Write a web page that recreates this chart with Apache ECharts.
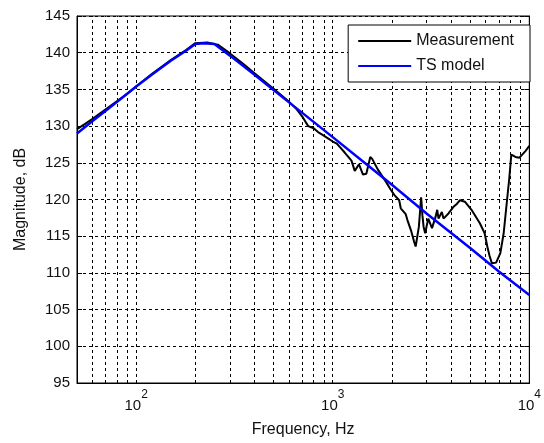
<!DOCTYPE html>
<html>
<head>
<meta charset="utf-8">
<script src="https://cdn.jsdelivr.net/npm/echarts@6/dist/echarts.min.js"></script>
<style>
html,body{margin:0;padding:0;background:#fff;}
#c{width:544px;height:443px;}
</style>
</head>
<body>
<div id="c"></div>
<script>
// ---- data ----
var measFreq = [50,55,60,70,80,90,100,120,150,180,200,230,260,300,350,400,500,600,650,700,750,800,850,900,950,1000,1050,1100,1150,1245,1294,1360,1425,1482,1552,1590,1694,1866,1977,2060,2178,2218,2351,2398,2500,2590,2641,2743,2816,2860,2898,2952,3060,3199,3332,3400,3452,3589,3661,3731,3879,4113,4277,4438,4700,5079,5593,5926,6113,6279,6449,6780,7121,7405,7701,7915,8096,8500,8912,9552,10000];
var measDb = [129.6,130.3,131.0,132.3,133.4,134.4,135.4,137.1,139.0,140.4,141.3,141.4,141.1,139.9,138.5,137.2,135.1,133.3,132.4,131.3,130.0,129.7,129.1,128.7,128.3,127.9,127.6,127.0,126.4,125.3,123.9,124.8,123.4,123.5,125.8,125.5,124.1,122.4,121.3,120.6,119.9,118.8,118.0,117.2,115.8,114.3,113.6,116.3,120.3,117.8,116.3,115.4,117.4,116.1,117.6,118.6,117.4,118.3,117.4,117.6,118.1,119.0,119.4,119.9,119.7,118.6,116.8,115.4,113.6,112.3,111.3,111.4,112.7,115.4,119.9,123.0,126.1,125.8,125.7,126.6,127.3];

var modelFreq = [50,60,70,80,90,100,120,150,180,200,220,250,300,400,500,700,1000,1500,2000,3000,5000,7000,10000];
var modelDb = [129.0,130.7,132.1,133.3,134.4,135.4,137.0,138.9,140.3,141.2,141.3,141.2,139.6,137.0,134.9,131.8,128.5,124.7,122.0,118.1,113.4,110.2,107.0];

var gridFreqs = [60,70,80,90,100,200,300,400,500,600,700,800,900,1000,2000,3000,4000,5000,6000,7000,8000,9000];
var xMin = 50, xMax = 10000;
var yMin = 95, yMax = 145, yStep = 5;
var seriesNames = ['Measurement', 'TS model'];

function pairs(fs, vs) { return fs.map(function (f, i) { return [f, vs[i]]; }); }

var FONT = '"Liberation Sans", Arial, sans-serif';
var chart = echarts.init(document.getElementById('c'), null, {renderer: 'canvas'});
var dash = [3, 3];

chart.setOption({
  animation: false,
  backgroundColor: '#fff',
  textStyle: {fontFamily: FONT},
  grid: {left: 77, top: 16, right: 9, bottom: 54, show: true, borderColor: '#000', borderWidth: 1, backgroundColor: '#fff'},
  legend: {
    orient: 'vertical', right: 14, top: 25, z: 20,
    padding: [8, 16, 8, 10], itemGap: 9, itemWidth: 53, itemHeight: 2,
    icon: 'rect',
    backgroundColor: '#fff', borderColor: '#000', borderWidth: 1,
    textStyle: {fontFamily: FONT, fontSize: 16, color: '#111', lineHeight: 16},
    data: seriesNames
  },
  xAxis: {
    type: 'log', logBase: 10, min: xMin, max: xMax,
    name: 'Frequency, Hz', nameLocation: 'middle', nameGap: 39,
    nameTextStyle: {fontFamily: FONT, fontSize: 16, color: '#111'},
    axisLine: {show: true, lineStyle: {color: '#000', width: 1}},
    axisTick: {show: false},
    splitLine: {show: false},
    minorTick: {show: false}, minorSplitLine: {show: false},
    axisLabel: {
      margin: 6,
      showMinLabel: false,
      formatter: function (v) {
        var l = Math.log10(v);
        if (Math.abs(l - Math.round(l)) > 1e-6) return '';
        return '{b|10}{e|' + Math.round(l) + '}';
      },
      rich: {
        b: {fontFamily: FONT, fontSize: 15, color: '#111', lineHeight: 24, verticalAlign: 'bottom'},
        e: {fontFamily: FONT, fontSize: 12, color: '#111', lineHeight: 22, verticalAlign: 'top'}
      }
    }
  },
  yAxis: [{
    type: 'value', min: yMin, max: yMax, interval: yStep,
    name: 'Magnitude, dB', nameLocation: 'middle', nameGap: 48,
    nameTextStyle: {fontFamily: FONT, fontSize: 16, color: '#111'},
    axisLine: {show: true, lineStyle: {color: '#000', width: 1}},
    axisTick: {show: true, inside: true, length: 5, lineStyle: {color: '#000'}},
    axisLabel: {margin: 7, fontFamily: FONT, fontSize: 15, color: '#111'},
    splitLine: {show: true, lineStyle: {color: '#000', width: 1, type: dash}}
  }, {
    type: 'value', min: yMin, max: yMax, interval: yStep, position: 'right',
    axisLine: {show: true, lineStyle: {color: '#000', width: 1}},
    axisTick: {show: true, inside: true, length: 5, lineStyle: {color: '#000'}},
    axisLabel: {show: false},
    splitLine: {show: false}
  }],
  series: [{
    name: seriesNames[0], type: 'line', data: pairs(measFreq, measDb),
    symbol: 'none', showSymbol: false, smooth: false, z: 3,
    lineStyle: {color: '#000', width: 2}, itemStyle: {color: '#000'},
    markLine: {
      silent: true, symbol: 'none', animation: false, z: 1,
      label: {show: false},
      lineStyle: {color: '#000', width: 1, type: dash},
      data: gridFreqs.map(function (f) { return {xAxis: f}; })
    }
  }, {
    name: seriesNames[1], type: 'line', data: pairs(modelFreq, modelDb),
    symbol: 'none', showSymbol: false, smooth: false, z: 4,
    lineStyle: {color: '#0000ff', width: 2.5}, itemStyle: {color: '#0000ff'}
  }]
});
</script>
</body>
</html>
